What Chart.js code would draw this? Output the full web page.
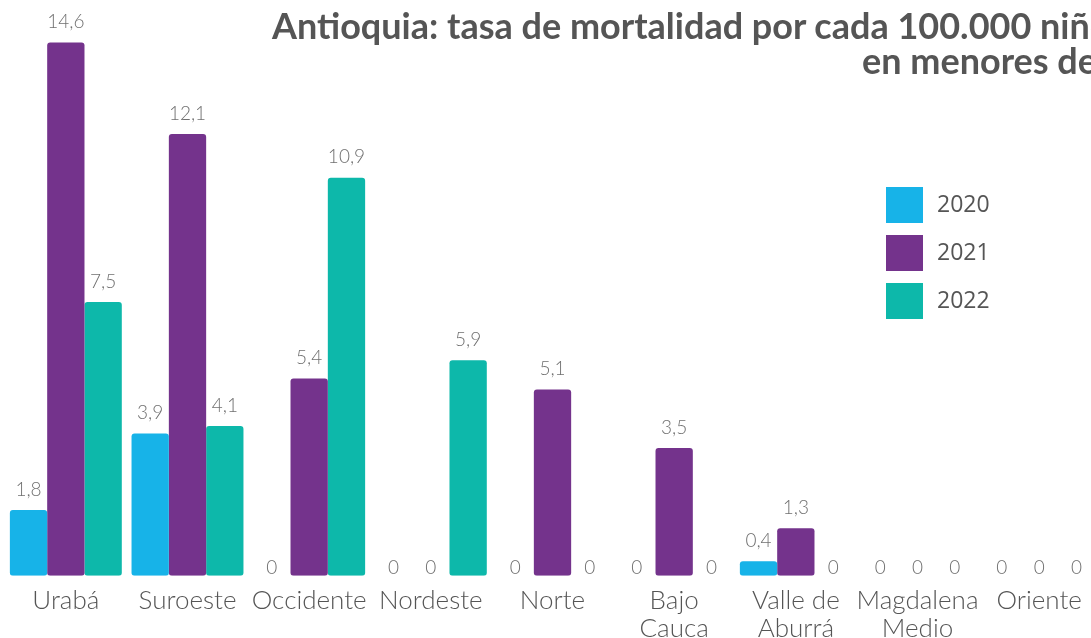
<!DOCTYPE html>
<html>
<head>
<meta charset="utf-8">
<script src="https://cdn.jsdelivr.net/npm/chart.js@4/dist/chart.umd.min.js"></script>
<style>
  html,body{margin:0;padding:0;overflow:hidden;background:#fff;}
  #wrap{position:relative;width:1100px;height:638px;overflow:hidden;}
  .title{position:absolute;white-space:nowrap;font-family:Lato,"Open Sans",sans-serif;font-weight:bold;font-size:36px;color:#555;line-height:36px;}
</style>
</head>
<body>
<div id="wrap">
  <canvas id="myChart" width="1100" height="654"></canvas>
  <div class="title" style="left:272px;top:7px;">Antioquia: tasa de mortalidad por cada 100.000 niños</div>
  <div class="title" style="left:862px;top:42px;">en menores de 5 años</div>
</div>
<script>
// subregiones
var categories = [["Urabá"],["Suroeste"],["Occidente"],["Nordeste"],["Norte"],["Bajo","Cauca"],["Valle de","Aburrá"],["Magdalena","Medio"],["Oriente"]];
var years = ["2020","2021","2022"];
var tasa2020 = [1.8, 3.9, 0, 0, 0, 0, 0.4, 0, 0];
var tasa2021 = [14.6, 12.1, 5.4, 0, 5.1, 3.5, 1.3, 0, 0];
var tasa2022 = [7.5, 4.1, 10.9, 5.9, 0, 0, 0, 0, 0];
var colores = ["#17b3e8","#74338c","#0db8aa"];

// etiquetas de valores encima de las barras
var valueLabels = {
  id:'valueLabels',
  afterDatasetsDraw:function(chart){
    var ctx = chart.ctx;
    var base = chart.scales.y.getPixelForValue(0);
    ctx.save();
    ctx.font = '300 19px Lato, "Open Sans", sans-serif';
    ctx.fillStyle = '#707070';
    ctx.textAlign = 'center';
    ctx.textBaseline = 'bottom';
    chart.data.datasets.forEach(function(ds,i){
      var meta = chart.getDatasetMeta(i);
      meta.data.forEach(function(bar,j){
        var v = ds.data[j];
        var txt = String(v).replace('.', ',');
        var y = v === 0 ? base + 2 : bar.y - 11;
        ctx.fillText(txt, bar.x, y);
      });
    });
    ctx.restore();
  }
};

// leyenda dibujada dentro del área
var legendBoxes = {
  id:'legendBoxes',
  afterDraw:function(chart){
    var ctx = chart.ctx;
    ctx.save();
    ctx.font = '23px "Open Sans", sans-serif';
    ctx.textBaseline = 'middle';
    ctx.textAlign = 'left';
    chart.data.datasets.forEach(function(ds,i){
      var y = 187 + i*48;
      ctx.fillStyle = ds.backgroundColor;
      ctx.fillRect(886, y, 37, 36);
      ctx.fillStyle = '#555';
      ctx.fillText(ds.label, 937, y + 18);
    });
    ctx.restore();
  }
};

var ctx = document.getElementById('myChart');
var myChart = new Chart(ctx, {
  type:'bar',
  data:{
    labels:categories,
    datasets:[
      {label:years[0], data:tasa2020, backgroundColor:colores[0]},
      {label:years[1], data:tasa2021, backgroundColor:colores[1]},
      {label:years[2], data:tasa2022, backgroundColor:colores[2]}
    ]
  },
  options:{
    responsive:false,
    animation:false,
    layout:{padding:{left:5,right:0,top:28,bottom:0}},
    datasets:{
      bar:{
        categoryPercentage:0.92,
        barPercentage:1.0,
        borderRadius:3,
        borderSkipped:false
      }
    },
    plugins:{
      legend:{display:false},
      title:{display:false},
      tooltip:{enabled:false}
    },
    scales:{
      x:{
        grid:{display:false,drawTicks:false},
        border:{display:false},
        ticks:{
          padding:11,
          color:'#555',
          maxRotation:0,
          autoSkip:false,
          font:{family:'Lato, "Open Sans", sans-serif',weight:'300',size:26,lineHeight:1.08}
        }
      },
      y:{
        display:false,
        min:0,
        max:15
      }
    }
  },
  plugins:[valueLabels, legendBoxes]
});
</script>
</body>
</html>
